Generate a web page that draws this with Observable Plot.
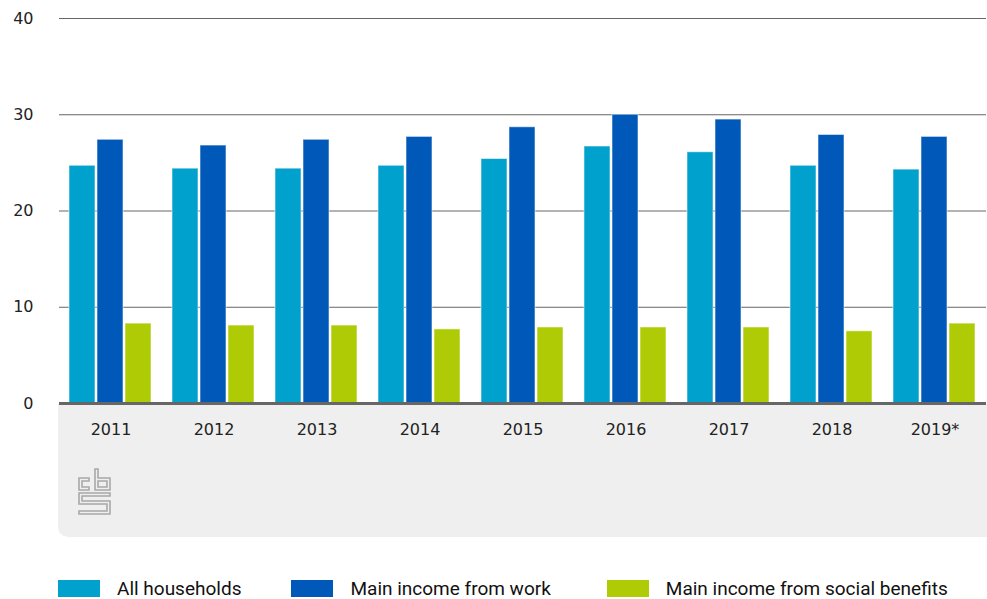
<!DOCTYPE html>
<html>
<head>
<meta charset="utf-8">
<script src="https://cdn.jsdelivr.net/npm/d3@7"></script>
<script src="https://cdn.jsdelivr.net/npm/@observablehq/plot@0.6"></script>
<style>
  html, body { margin: 0; padding: 0; background: #fff; }
  #wrap { position: relative; width: 987px; height: 599px; font-family: "DejaVu Sans", sans-serif; }
  #panel { position: absolute; left: 58px; top: 404px; width: 929px; height: 133px; background: #efefef; border-bottom-left-radius: 10px; }
  #chart { position: absolute; left: 0; top: 0; }
  #logo { position: absolute; left: 78px; top: 468px; }
  #legend { position: absolute; left: 58px; top: 577px; display: flex; align-items: center; font-family: "Liberation Sans Narrow", "Roboto", sans-serif; font-size: 19px; color: #111; }
  .item { display: flex; align-items: center; }
  .sw { width: 42px; height: 17px; margin-right: 17px; }
</style>
</head>
<body>
<div id="wrap">
  <div id="panel"></div>
  <div id="chart"></div>
  <svg id="logo" width="34" height="48" viewBox="0 0 34 48" fill="none" stroke="#a8a8a8" stroke-width="1.6">
    <path d="M1 10 H11 V13 H4 V19 H11 V22 H1 Z"/>
    <path d="M17 1 H20 V10 H32 V22 H17 Z M20 13 V19 H29 V13 Z"/>
    <path d="M1 25 H32 V28 H4 V33 H32 V46 H1 V43 H29 V36 H1 Z"/>
  </svg>
  <div id="legend"></div>
</div>
<script>
const years = ["2011", "2012", "2013", "2014", "2015", "2016", "2017", "2018", "2019*"];
const seriesNames = ["All households", "Main income from work", "Main income from social benefits"];
const allHouseholds = [24.7, 24.4, 24.4, 24.7, 25.4, 26.7, 26.1, 24.7, 24.3];
const incomeFromWork = [27.4, 26.8, 27.4, 27.7, 28.7, 30.0, 29.5, 27.9, 27.7];
const incomeFromBenefits = [8.3, 8.1, 8.1, 7.7, 7.9, 7.9, 7.9, 7.5, 8.3];
const yTicks = [0, 10, 20, 30, 40];
const colors = ["#00a1cd", "#0058b8", "#afcb05"];

const seriesValues = [allHouseholds, incomeFromWork, incomeFromBenefits];
const data = [];
years.forEach((yr, i) => {
  seriesNames.forEach((s, j) => data.push({year: yr, series: s, value: seriesValues[j][i]}));
});

const chart = Plot.plot({
  width: 987,
  height: 537,
  marginTop: 18,
  marginBottom: 134,
  marginLeft: 58,
  marginRight: 0,
  style: {background: "transparent", fontFamily: "DejaVu Sans, sans-serif", fontSize: "16px", color: "#222"},
  fx: {domain: years, padding: 0, label: null, axis: "bottom", tickSize: 0, tickPadding: 20},
  x: {domain: seriesNames, paddingInner: 0.07, paddingOuter: 0.33, axis: null},
  y: {domain: [0, 40], ticks: yTicks, label: null, tickSize: 0, tickPadding: 26, tickFormat: d => d},
  color: {domain: seriesNames, range: colors},
  marks: [
    Plot.ruleY(yTicks.filter(d => d > 0), {stroke: "#666", strokeWidth: 1, strokeOpacity: 1}),
    Plot.barY(data, {fx: "year", x: "series", y: "value", fill: "series", stroke: "#ffffff", strokeOpacity: 0.55, strokeWidth: 1}),
    Plot.ruleY([0], {stroke: "#666", strokeWidth: 3})
  ]
});
document.getElementById("chart").appendChild(chart);

const legend = document.getElementById("legend");
seriesNames.forEach((s, j) => {
  const it = document.createElement("div");
  it.className = "item";
  it.style.marginRight = j === 0 ? "50px" : (j === 1 ? "56px" : "0");
  const sw = document.createElement("div");
  sw.className = "sw";
  sw.style.background = colors[j];
  const tx = document.createElement("span");
  tx.textContent = s;
  it.appendChild(sw); it.appendChild(tx);
  legend.appendChild(it);
});
</script>
</body>
</html>
